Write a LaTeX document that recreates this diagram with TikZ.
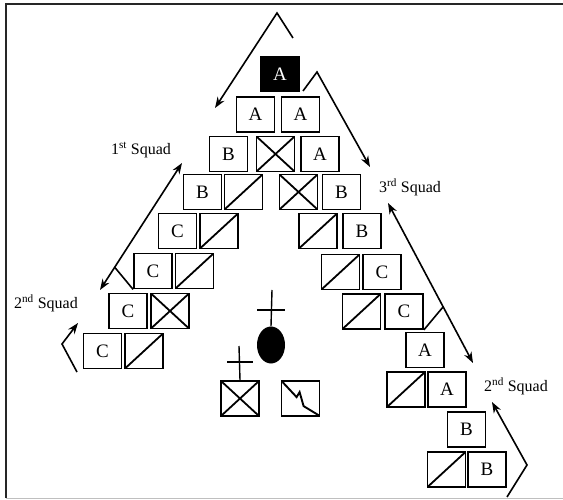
\documentclass[tikz,border=0pt]{standalone}
\usepackage{fontspec}
\setmainfont{Liberation Serif}
\usetikzlibrary{arrows.meta,calc,shapes.geometric}
\tikzset{
  unit/.style={draw, line width=1.8pt, minimum width=38pt, minimum height=35pt, inner sep=0pt, font=\fontsize{19}{21}\selectfont},
  lead/.style={unit, fill=black, text=white},
  slashbox/.style={unit, path picture={\draw[line width=1.8pt] (path picture bounding box.south west) -- (path picture bounding box.north east);}},
  crossbox/.style={unit, path picture={\draw[line width=1.8pt] (path picture bounding box.south west) -- (path picture bounding box.north east) (path picture bounding box.north west) -- (path picture bounding box.south east);}},
  mover/.style={line width=1.6pt, -{Stealth[length=11pt,width=8pt]}},
  twoway/.style={line width=1.6pt, {Stealth[length=11pt,width=8pt]}-{Stealth[length=11pt,width=8pt]}},
  tick/.style={line width=1.6pt},
  lbl/.style={font=\fontsize{16}{18}\selectfont, inner sep=0pt},
  sym/.style={line width=1.4pt}
}
\begin{document}
\begin{tikzpicture}[x=1pt,y=-1pt]
\useasboundingbox (0,0) rectangle (563,500);
% frame
\draw[line width=2pt, black!85] (6,498) -- (6,4) -- (563,4);
\draw[line width=0.8pt, black!25] (6,498.5) -- (563,498.5);
% boxes
\node[lead] (a0) at (280,74) {A};
\node[unit] (a1) at (255.5,114.5) {A};
\node[unit] (a2) at (300.5,114.5) {A};
\node[unit] (b1) at (228.5,154) {B};
\node[crossbox] (x1) at (275.5,154) {};
\node[unit] (a3) at (320,154) {A};
\node[unit] (b2) at (202.5,192) {B};
\node[slashbox] (s1) at (243.5,192) {};
\node[crossbox] (x2) at (298.5,192) {};
\node[unit] (b3) at (341.5,192) {B};
\node[unit] (c1) at (177.5,231) {C};
\node[slashbox] (s2) at (219,231) {};
\node[slashbox] (s3) at (318,231) {};
\node[unit] (b4) at (362,231) {B};
\node[unit] (c2) at (153,271) {C};
\node[slashbox] (s4) at (194.5,271) {};
\node[slashbox] (s5) at (340.5,272) {};
\node[unit] (c3) at (382,272) {C};
\node[unit] (c4) at (128,311) {C};
\node[crossbox] (x3) at (170,311) {};
\node[slashbox] (s6) at (361.5,311.5) {};
\node[unit] (c5) at (404,311.5) {C};
\node[unit] (c6) at (102.5,351) {C};
\node[slashbox] (s7) at (144,351) {};
\node[unit] (a4) at (425,350) {A};
\node[slashbox] (s8) at (406,389.5) {};
\node[unit] (a5) at (447,389.5) {A};
\node[unit] (b5) at (466.5,429.5) {B};
\node[slashbox] (s9) at (446.5,469.5) {};
\node[unit] (b6) at (487,469.5) {B};
% leader symbols
\node[crossbox] (x4) at (240,398.5) {};
\node[unit] (lt) at (300.5,398.5) {};
\draw[line width=1.9pt] ($(lt.north west)+(2,2)$) -- ($(lt.north west)+(16,17)$) -- ($(lt.north west)+(19,12)$) -- ($(lt.north west)+(23,26)$) -- ($(lt.south east)+(-1.5,-1.5)$);
\node[ellipse, fill=black, minimum width=28pt, minimum height=37pt, inner sep=0pt] (pl) at (271,345) {};
\coordinate (plt) at (272,290);
\draw[sym] (pl.north) -- (plt);
\draw[sym] (257,310) -- (285,310);
\coordinate (xt) at (239,346);
\draw[sym] (x4.north) -- (xt);
\draw[sym] (227,362) -- (253,362);
% labels
\node[lbl] (l1) at (141,150) {1\textsuperscript{st} Squad};
\node[lbl] (l2) at (46,303) {2\textsuperscript{nd} Squad};
\node[lbl] (l3) at (410,187) {3\textsuperscript{rd} Squad};
\node[lbl] (l4) at (516,386) {2\textsuperscript{nd} Squad};
% arrows
\coordinate (t1) at (293,38); \coordinate (t2) at (277,13); \coordinate (t3) at (215,108);
\draw[mover] (t1) -- (t2) -- (t3);
\coordinate (u1) at (303,91); \coordinate (u2) at (317,72); \coordinate (u3) at (370,167);
\draw[mover] (u1) -- (u2) -- (u3);
\coordinate (la) at (182,163); \coordinate (lb) at (100,290); \coordinate (lk) at (114.5,267);
\draw[twoway] (la) -- (lb);
\draw[tick] (lk) -- (c2.south west);
\coordinate (m1) at (77,372); \coordinate (m2) at (62,344); \coordinate (m3) at (78,323);
\draw[mover] (m1) -- (m2) -- (m3);
\coordinate (ra) at (388,203); \coordinate (rb) at (473,363); \coordinate (rk) at (443,307);
\draw[twoway] (ra) -- (rb);
\draw[tick] (rk) -- (c5.south east);
\coordinate (n1) at (507,497); \coordinate (n2) at (527,465); \coordinate (n3) at (492,402);
\draw[mover] (n1) -- (n2) -- (n3);
\end{tikzpicture}
\end{document}
